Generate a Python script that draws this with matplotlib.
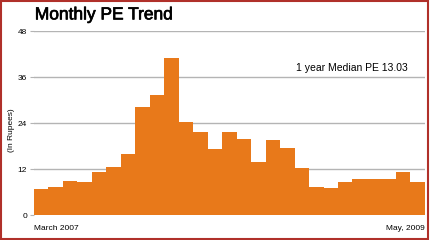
import matplotlib
matplotlib.use('Agg')
import matplotlib.pyplot as plt
from matplotlib.patches import Rectangle
import matplotlib.patheffects as pe_fx

plt.rcParams['font.family'] = ['Liberation Sans', 'DejaVu Sans']

# PE mensal, Março 2007 até Maio 2009 (27 meses)
meses = list(range(27))
pe = [6.9, 7.4, 9.0, 8.7, 11.2, 12.6, 16.0, 28.2, 31.3, 41.0,
      24.4, 21.8, 17.3, 21.8, 19.9, 13.9, 19.6, 17.6, 12.4, 7.4,
      7.2, 8.7, 9.3, 9.3, 9.5, 11.3, 8.6]
yticks = [0, 12, 24, 36, 48]
rotulo_inicio = 'March 2007'
rotulo_fim = 'May, 2009'
mediana = 'PE 13.03'

fig = plt.figure(figsize=(4.3, 2.4), dpi=100)
ax = fig.add_axes([0.079, 0.104, 0.909, 0.765])

ax.bar(meses, pe, width=1.0, color='#E8791A', align='edge', zorder=2)
ax.set_xlim(0, len(meses))
ax.set_ylim(0, 48)
ax.set_yticks(yticks)
ax.set_yticklabels([str(t) for t in yticks], fontsize=6)
ax.set_xticks([])
for t in yticks[1:]:
    ax.axhline(t, color='#b4b4b4', lw=1.0, zorder=1)
for s in ax.spines.values():
    s.set_visible(False)
ax.tick_params(axis='y', length=3, width=0.8, color='#b4b4b4', pad=2)

ax.text(0.957, 0.80, '1 year Median ' + mediana, transform=ax.transAxes,
        ha='right', va='center', fontsize=7.5)

fig.text(0.026, 0.458, '(In Rupees)', rotation=90, ha='center', va='center', fontsize=6)
fig.text(0.079, 0.05, rotulo_inicio, ha='left', va='center', fontsize=6)
fig.text(0.988, 0.05, rotulo_fim, ha='right', va='center', fontsize=6)
titulo = fig.text(0.081, 0.938, 'Monthly PE Trend', ha='left', va='center', fontsize=12.5)
titulo.set_path_effects([pe_fx.withStroke(linewidth=0.5, foreground='black')])

# moldura vermelha
fig.patches.append(Rectangle((0.002, 0.004), 0.994, 0.99, transform=fig.transFigure,
                             fill=False, edgecolor='#B0302A', lw=1.5))

fig.savefig('out.png', dpi=100)
